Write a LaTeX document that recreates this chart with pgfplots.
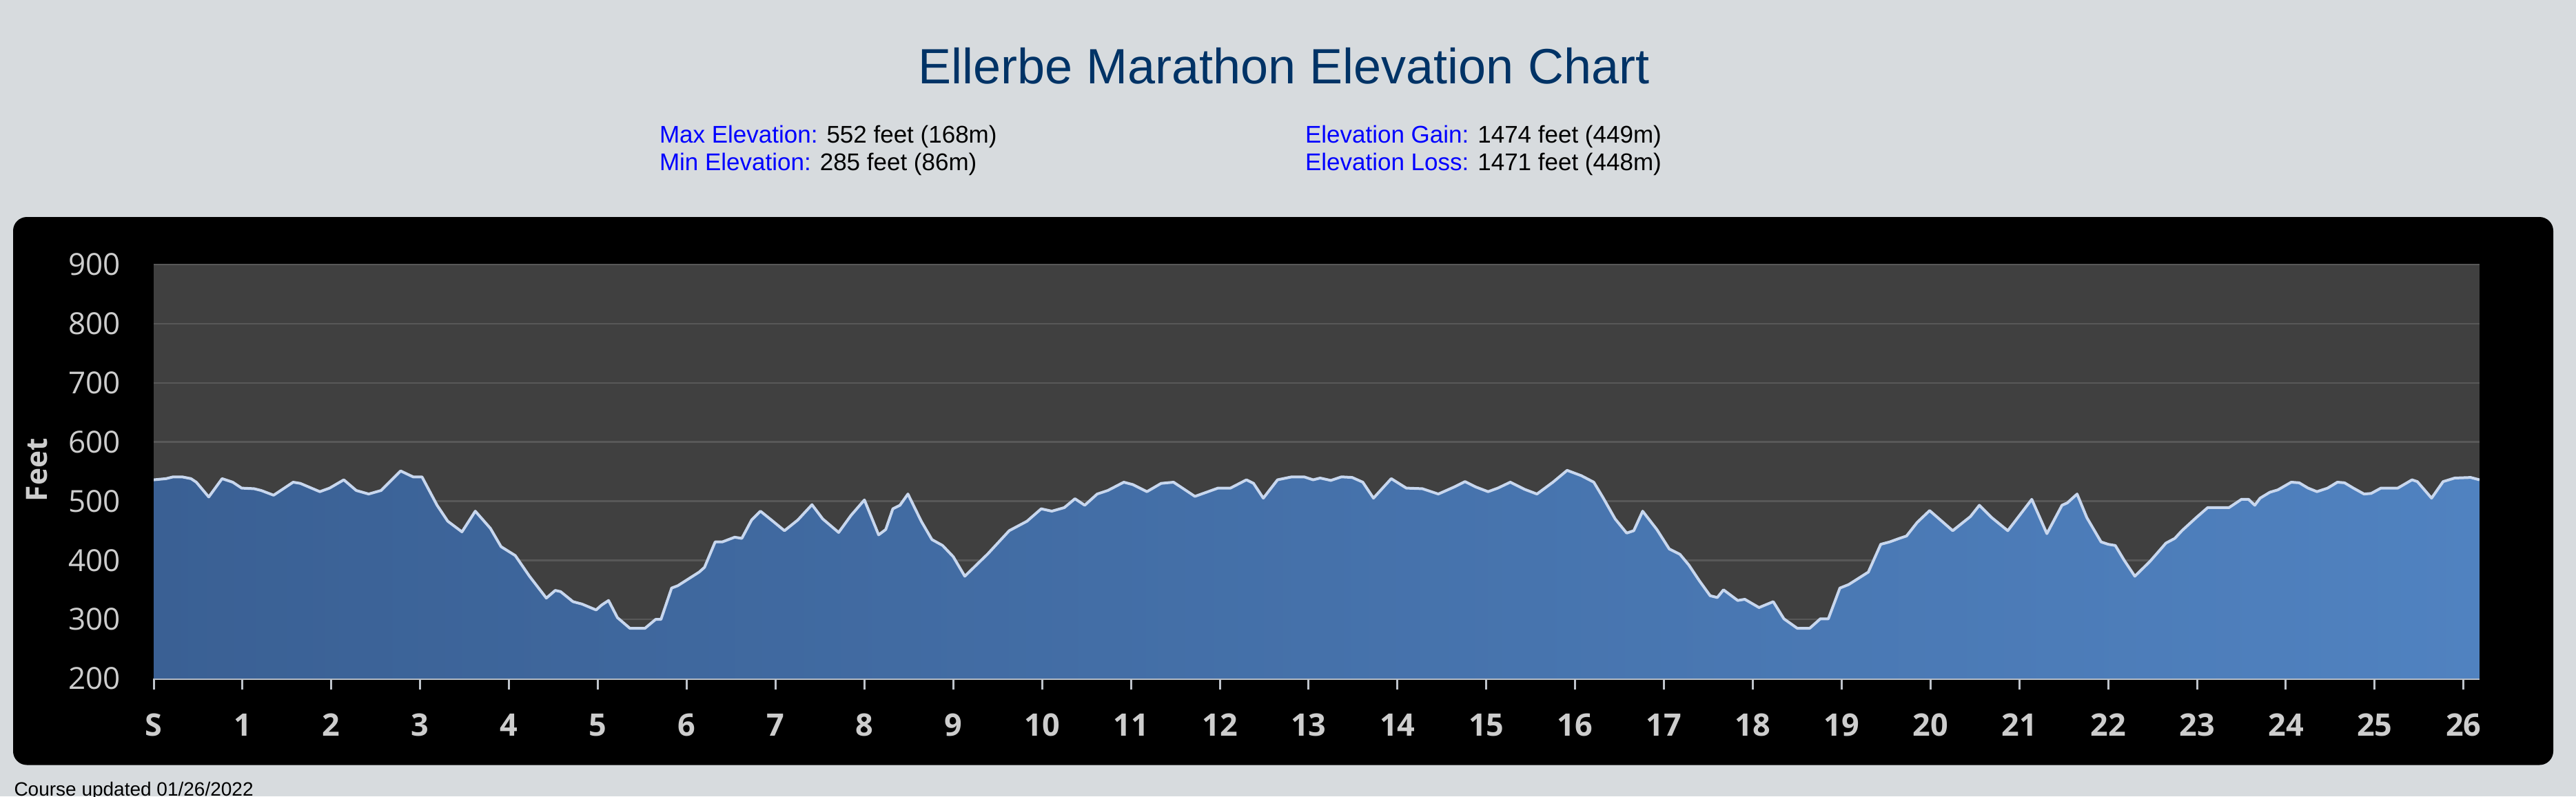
\documentclass[border=0pt]{standalone}
\usepackage{fontspec}
\setmainfont{Liberation Sans}
\newfontfamily\chartfont{Open Sans}
\usepackage{pgfplots}
\usepackage{pgfplotstable}
\pgfplotsset{compat=1.18}

\definecolor{pagebg}{RGB}{215,219,222}
\definecolor{titleblue}{RGB}{0,51,102}
\definecolor{labelblue}{RGB}{0,0,255}
\definecolor{plotbg}{RGB}{64,64,64}
\definecolor{gridgray}{RGB}{88,88,88}
\definecolor{axisgray}{RGB}{190,195,202}
\definecolor{ticktext}{RGB}{205,205,205}
\definecolor{fillL}{RGB}{58,96,148}
\definecolor{fillR}{RGB}{80,130,192}
\definecolor{profile}{RGB}{200,215,238}

% elevation profile, miles vs feet
\pgfplotstableread{
mile ft
0.00 536
0.14 538
0.22 541
0.32 541
0.42 538
0.48 532
0.62 507
0.77 538
0.89 532
0.99 522
1.13 521
1.21 518
1.35 510
1.57 532
1.65 530
1.87 516
1.98 522
2.14 536
2.28 518
2.42 512
2.56 518
2.78 551
2.92 541
3.02 541
3.19 493
3.31 466
3.47 448
3.62 483
3.79 454
3.91 423
4.07 408
4.23 373
4.42 336
4.52 349
4.58 347
4.72 330
4.82 326
4.98 316
5.04 324
5.12 332
5.22 303
5.36 285
5.53 285
5.65 300
5.71 300
5.83 353
5.90 357
6.14 380
6.20 388
6.32 431
6.40 431
6.54 439
6.62 437
6.73 468
6.83 483
6.97 466
7.10 450
7.25 468
7.41 494
7.53 470
7.71 447
7.85 476
8.00 502
8.16 443
8.24 452
8.32 487
8.40 493
8.49 512
8.64 466
8.76 435
8.88 425
9.00 406
9.13 373
9.39 411
9.63 450
9.83 466
9.99 487
10.11 483
10.25 489
10.37 504
10.48 493
10.62 512
10.74 518
10.92 532
11.02 528
11.18 516
11.34 530
11.48 532
11.72 508
11.98 522
12.12 522
12.30 536
12.38 530
12.49 505
12.65 536
12.81 541
12.95 541
13.05 536
13.13 539
13.25 535
13.37 541
13.49 540
13.61 532
13.73 505
13.93 538
14.10 522
14.28 521
14.46 512
14.64 524
14.76 533
14.88 524
15.02 516
15.13 522
15.27 532
15.43 520
15.57 512
15.75 532
15.91 552
16.07 543
16.21 532
16.31 507
16.45 470
16.58 446
16.66 450
16.76 483
16.92 452
17.06 419
17.18 410
17.28 392
17.40 365
17.52 340
17.60 337
17.67 350
17.83 332
17.91 334
18.07 320
18.23 330
18.35 301
18.50 285
18.64 285
18.76 301
18.85 301
18.98 353
19.08 359
19.30 380
19.44 427
19.54 431
19.65 437
19.73 441
19.85 464
19.99 484
20.25 450
20.45 474
20.55 493
20.69 472
20.87 450
21.14 503
21.31 445
21.48 493
21.54 497
21.65 512
21.76 472
21.92 431
22.00 427
22.08 425
22.18 400
22.30 373
22.47 398
22.65 429
22.75 437
22.83 450
22.99 472
23.12 489
23.36 489
23.50 503
23.58 503
23.65 493
23.71 505
23.82 515
23.91 519
24.06 532
24.15 531
24.25 522
24.35 516
24.47 522
24.58 532
24.66 531
24.76 522
24.88 512
24.96 513
25.07 522
25.26 522
25.42 536
25.48 533
25.64 505
25.77 533
25.90 539
26.08 540
26.18 536
}\elev

\begin{document}
\begin{tikzpicture}
\useasboundingbox (0,0) rectangle (747.6pt,-231.2pt);
\fill[pagebg] (0,0) rectangle (747.6pt,-231.2pt);
\fill[black, rounded corners=4pt] (3.8pt,-63pt) rectangle (741pt,-222.1pt);

% heading and stats
\node[anchor=base, inner sep=0pt, text=titleblue, font=\fontsize{14.4}{17}\selectfont]
  at (372.6pt,-24.2pt) {Ellerbe Marathon Elevation Chart};
\begin{scope}[every node/.style={anchor=base west, inner sep=0pt, font=\fontsize{7}{8.4}\selectfont}]
\node at (191.2pt,-41.4pt) {\textcolor{labelblue}{Max Elevation:} 552 feet (168m)};
\node at (191.2pt,-49.4pt) {\textcolor{labelblue}{Min Elevation:} 285 feet (86m)};
\node at (378.6pt,-41.4pt) {\textcolor{labelblue}{Elevation Gain:} 1474 feet (449m)};
\node at (378.6pt,-49.4pt) {\textcolor{labelblue}{Elevation Loss:} 1471 feet (448m)};
\end{scope}
\node[anchor=base west, inner sep=0pt, font=\fontsize{5.6}{6.7}\selectfont]
  at (3.9pt,-231pt) {Course updated 01/26/2022};

\node[rotate=90, inner sep=0pt, text=ticktext, font=\chartfont\bfseries\fontsize{8.5}{10}\selectfont]
  at (10.8pt,-136.4pt) {Feet};

\begin{axis}[
  at={(44.6pt,-197pt)}, anchor=south west,
  scale only axis, width=675pt, height=120.2pt,
  xmin=0, xmax=26.18, ymin=200, ymax=900,
  axis background/.style={fill=plotbg},
  axis x line=bottom, axis y line=left,
  x axis line style={draw=axisgray, line width=0.6pt, -},
  y axis line style={draw=none},
  xtick={0,...,26},
  xticklabels={S,1,2,3,4,5,6,7,8,9,10,11,12,13,14,15,16,17,18,19,20,21,22,23,24,25,26},
  ytick={200,300,...,900},
  tick align=outside, major tick length=3.2pt,
  xtick style={draw=axisgray, line width=0.6pt},
  ytick style={draw=none},
  ymajorgrids, grid style={draw=gridgray, line width=0.5pt},
  /pgf/number format/assume math mode=true,
  yticklabel style={font=\chartfont\fontsize{8.8}{10}\selectfont, text=ticktext, anchor=east, inner sep=0pt, xshift=-6.2pt},
  xticklabel style={font=\chartfont\bfseries\fontsize{9}{10}\selectfont, text=ticktext, anchor=north, inner sep=0pt, yshift=-6.8pt},
]
\addplot[draw=none, left color=fillL, right color=fillR] table[x=mile, y=ft] {\elev} \closedcycle;
\addplot[profile, line width=0.8pt, line join=round] table[x=mile, y=ft] {\elev};
\end{axis}
\end{tikzpicture}
\end{document}
